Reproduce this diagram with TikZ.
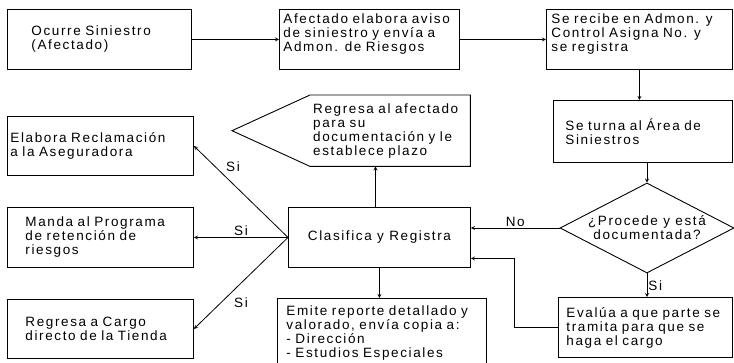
\documentclass[tikz,border=0pt]{standalone}
\usepackage{fontspec}
\setmainfont[LetterSpace=12]{Liberation Sans}
\usepackage{tikz}
\usetikzlibrary{positioning,shapes.geometric}

\begin{document}
\begin{tikzpicture}[
    x=1pt, y=-1pt,
    every node/.style={font=\fontsize{13.5}{14}\selectfont},
    caja/.style={draw, line width=0.9pt, anchor=north west, align=left, inner ysep=2pt},
    etiq/.style={inner sep=1pt},
    >=stealth
]
\useasboundingbox (0,0) rectangle (734,363);

% Cajas de la fila superior
\node[caja, minimum width=184pt, minimum height=60pt, inner xsep=24pt, text width=136pt] (ocurre) at (7,9) {Ocurre Siniestro\\(Afectado)};
\node[caja, minimum width=180pt, minimum height=60pt, inner xsep=4pt, text width=172pt] (aviso) at (279,9) {Afectado elabora aviso\\de siniestro  y envía a\\Admon. de Riesgos\\\mbox{}};
\node[caja, minimum width=186pt, minimum height=60pt, inner xsep=5pt, text width=176pt] (recibe) at (546,9) {Se recibe en Admon. y\\Control Asigna No. y\\se registra\\\mbox{}};

% Columna derecha
\node[caja, minimum width=179pt, minimum height=62pt, inner xsep=12pt, text width=155pt] (turna) at (553,100) {Se turna al Área de\\Siniestros};
\node[draw, diamond, aspect=1.93, line width=0.9pt, minimum width=174pt, minimum height=90pt, inner sep=0pt, align=center] (procede) at (647,228) {¿Procede y está\\documentada?};
\node[caja, minimum width=174pt, minimum height=60pt, inner xsep=8pt, text width=158pt] (evalua) at (558,297) {Evalúa a que parte se\\tramita para que se\\haga el cargo};

% Centro
\node[caja, minimum width=182pt, minimum height=60pt, align=center] (clasifica) at (288,207) {Clasifica y Registra};
\node[anchor=north west, minimum width=160pt, minimum height=71pt, inner xsep=3pt, text width=154pt, align=left] (regresa) at (310,95) {Regresa al afectado\\para su\\documentación y le\\establece plazo};
\draw[line width=0.9pt] (regresa.north west) -- (regresa.north east) -- (regresa.south east) -- (regresa.south west) -- ([xshift=-78pt]regresa.west) -- cycle;
\node[caja, minimum width=209pt, minimum height=70pt, inner xsep=9pt, text width=191pt] (emite) at (277,298) {Emite reporte detallado y\\valorado, envía copia a:\\- Dirección\\- Estudios Especiales};

% Columna izquierda
\node[caja, minimum width=186pt, minimum height=59pt, inner xsep=3pt, text width=180pt] (reclama) at (7,116) {Elabora Reclamación\\a la Aseguradora};
\node[caja, minimum width=186pt, minimum height=60pt, inner xsep=18pt, text width=150pt] (manda) at (7,207) {Manda al Programa\\de retención de\\riesgos};
\node[caja, minimum width=186pt, minimum height=59pt, inner xsep=18pt, text width=150pt] (cargo) at (7,299) {Regresa a Cargo\\directo de la Tienda};

% Flechas
\draw[->, line width=0.8pt] (ocurre) -- (aviso);
\draw[->, line width=0.8pt] (aviso) -- (recibe);
\draw[->, line width=0.8pt] (recibe.south) -- (recibe.south |- turna.north);
\draw[->, line width=0.8pt] (turna.south -| procede.north) -- (procede.north);
\draw[->, line width=0.8pt] (procede.west) -- node[etiq, above] (no) {No} (procede.west -| clasifica.east);
\draw[->, line width=0.8pt] (procede.south) -- node[etiq, right] (si4) {Si} (procede.south |- evalua.north);
\draw[->, line width=0.8pt] (evalua.west) -- ++(-44,0) |- ([yshift=-21pt]clasifica.east);
\draw[->, line width=0.8pt] ([xshift=-4pt]clasifica.north) -- ([xshift=-4pt]clasifica.north |- regresa.south);
\draw[->, line width=0.8pt] (clasifica.south) -- (clasifica.south |- emite.north);
\draw[->, line width=0.8pt] (clasifica.west) -- (reclama.east);
\draw[->, line width=0.8pt] (clasifica.west) -- node[etiq, above] (si2) {Si} (manda.east);
\draw[->, line width=0.8pt] (clasifica.west) -- (cargo.east);
\node[etiq] (si1) at (233,167) {Si};
\node[etiq] (si3) at (241,303) {Si};
\end{tikzpicture}
\end{document}
